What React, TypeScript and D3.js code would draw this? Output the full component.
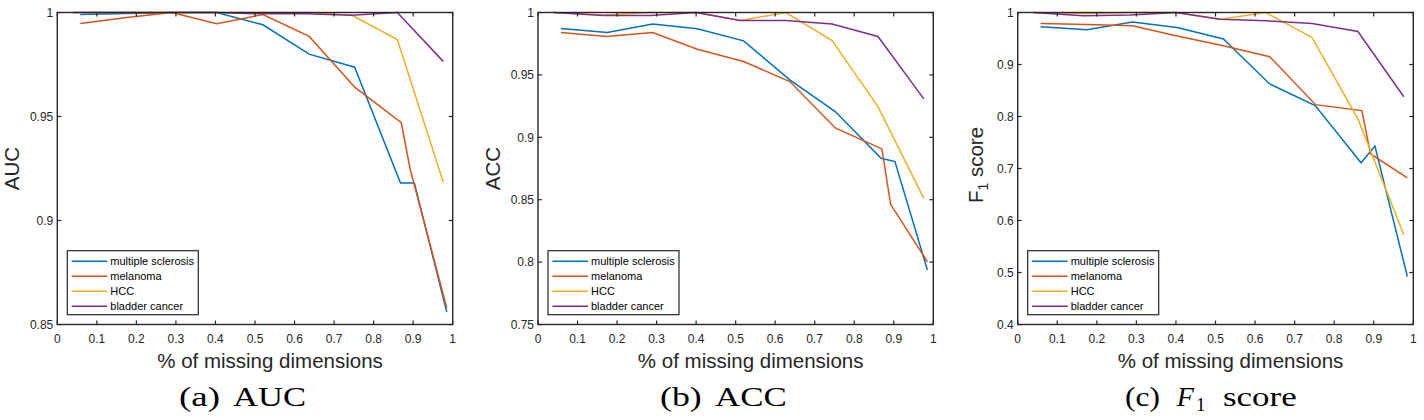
import React from "react";
import * as d3 from "d3";

// ---------- data ----------
const SERIES_NAMES = ["multiple sclerosis", "melanoma", "HCC", "bladder cancer"];
const COLORS = ["#0072BD", "#D95319", "#EDB120", "#7E2F8E"];

const X_MS = [0.058, 0.175, 0.29, 0.403, 0.52, 0.637, 0.752, 0.868, 0.903, 0.985];
const X_MEL = [0.058, 0.175, 0.29, 0.403, 0.52, 0.637, 0.753, 0.87, 0.892, 0.985];
const X_HCC = [0.04, 0.165, 0.285, 0.4, 0.512, 0.627, 0.744, 0.86, 0.976];
const X_BLAD = [0.04, 0.165, 0.285, 0.4, 0.512, 0.627, 0.744, 0.86, 0.976];

const AUC_MS = [0.999, 0.9995, 1.0, 1.0, 0.9941, 0.98, 0.9737, 0.918, 0.918, 0.856];
const AUC_MEL = [0.9947, 0.9976, 1.0, 0.9946, 0.999, 0.9885, 0.964, 0.947, 0.925, 0.858];
const AUC_HCC = [1.0, 1.0, 1.0, 1.0, 1.0, 1.0, 0.9988, 0.987, 0.9185];
const AUC_BLAD = [1.0, 1.0, 1.0, 1.0, 0.9994, 0.9994, 0.9987, 1.0, 0.9765];

const ACC_MS = [0.9872, 0.984, 0.9907, 0.987, 0.9773, 0.946, 0.9206, 0.8832, 0.8805, 0.7937];
const ACC_MEL = [0.984, 0.9808, 0.984, 0.9706, 0.9607, 0.9447, 0.9073, 0.8907, 0.8463, 0.8003];
const ACC_HCC = [1.0, 0.998, 1.0, 1.0, 0.9936, 1.0, 0.9775, 0.9246, 0.851];
const ACC_BLAD = [1.0, 0.9976, 0.9976, 1.0, 0.9936, 0.9936, 0.9907, 0.9808, 0.9308];

const F1_MS = [0.9726, 0.9668, 0.9815, 0.9712, 0.949, 0.8626, 0.821, 0.711, 0.743, 0.4923];
const F1_MEL = [0.979, 0.977, 0.9745, 0.955, 0.936, 0.915, 0.8228, 0.8113, 0.728, 0.682];
const F1_HCC = [1.0, 0.998, 1.0, 1.0, 0.987, 1.0, 0.952, 0.7954, 0.5727];
const F1_BLAD = [1.0, 0.9937, 0.995, 1.0, 0.987, 0.984, 0.979, 0.9635, 0.838];

const X_TICKS = [0, 0.1, 0.2, 0.3, 0.4, 0.5, 0.6, 0.7, 0.8, 0.9, 1];
const AUC_Y_TICKS = [0.85, 0.9, 0.95, 1];
const ACC_Y_TICKS = [0.75, 0.8, 0.85, 0.9, 0.95, 1];
const F1_Y_TICKS = [0.4, 0.5, 0.6, 0.7, 0.8, 0.9, 1];

const X_LABEL = "% of missing dimensions";

// ---------- layout ----------
const TOP = 12.5;
const BOTTOM = 324.5;
const AX = "#262626";
const SANS = "'Liberation Sans', Arial, Helvetica, sans-serif";
const SERIF = "'Liberation Serif', 'Times New Roman', serif";

const xsAll = [X_MS, X_MEL, X_HCC, X_BLAD];

const panels = [
  {
    left: 57.3, right: 452.7, yDomain: [0.85, 1], yTicks: AUC_Y_TICKS,
    ys: [AUC_MS, AUC_MEL, AUC_HCC, AUC_BLAD],
    ylabel: "AUC", ylabelX: 18.5, capTag: "(a)", capTagX: 179, capTagW: 41,
    capText: "AUC", capTextX: 233, capTextW: 73,
  },
  {
    left: 538, right: 933.3, yDomain: [0.75, 1], yTicks: ACC_Y_TICKS,
    ys: [ACC_MS, ACC_MEL, ACC_HCC, ACC_BLAD],
    ylabel: "ACC", ylabelX: 500, capTag: "(b)", capTagX: 660, capTagW: 41.7,
    capText: "ACC", capTextX: 715, capTextW: 71.7,
  },
  {
    left: 1017.7, right: 1413.3, yDomain: [0.4, 1], yTicks: F1_Y_TICKS,
    ys: [F1_MS, F1_MEL, F1_HCC, F1_BLAD],
    ylabel: "F1", ylabelX: 983, capTag: "(c)", capTagX: 1125, capTagW: 35,
    capText: "F1", capTextX: 1176.7, capTextW: 0,
  },
];

const fmt = (v: number) => String(+v.toFixed(2));

function Panel({ p }: { p: any }) {
  const x = d3.scaleLinear().domain([0, 1]).range([p.left, p.right]);
  const y = d3.scaleLinear().domain(p.yDomain).range([BOTTOM, TOP]);
  const line = d3.line<[number, number]>().x((d) => x(d[0])).y((d) => y(d[1]));
  const tl = 4;
  const cx = (p.left + p.right) / 2;
  const legX = p.left + 10;
  const legY = 250.7;
  const isF1 = p.ylabel === "F1";
  return (
    <g>
      {/* series */}
      {p.ys.map((vals: number[], i: number) => (
        <path
          key={i}
          d={line(vals.map((v, j) => [xsAll[i][j], v] as [number, number])) || ""}
          fill="none"
          stroke={COLORS[i]}
          strokeWidth={1.5}
        />
      ))}
      {/* box */}
      <rect x={p.left} y={TOP} width={p.right - p.left} height={BOTTOM - TOP} fill="none" stroke={AX} strokeWidth={1.4} />
      {/* x ticks */}
      {X_TICKS.map((t) => (
        <g key={"x" + t}>
          <line x1={x(t)} x2={x(t)} y1={BOTTOM} y2={BOTTOM - tl} stroke={AX} strokeWidth={1.2} />
          <line x1={x(t)} x2={x(t)} y1={TOP} y2={TOP + tl} stroke={AX} strokeWidth={1.2} />
          <text x={x(t)} y={342.5} textAnchor="middle" fontFamily={SANS} fontSize={12} fill={AX}>
            {fmt(t)}
          </text>
        </g>
      ))}
      {/* y ticks */}
      {p.yTicks.map((t: number) => (
        <g key={"y" + t}>
          <line x1={p.left} x2={p.left + tl} y1={y(t)} y2={y(t)} stroke={AX} strokeWidth={1.2} />
          <line x1={p.right} x2={p.right - tl} y1={y(t)} y2={y(t)} stroke={AX} strokeWidth={1.2} />
          <text x={p.left - 4} y={y(t) + 4.3} textAnchor="end" fontFamily={SANS} fontSize={12} fill={AX}>
            {fmt(t)}
          </text>
        </g>
      ))}
      {/* x label */}
      <text x={cx + 15} y={368} textAnchor="middle" fontFamily={SANS} fontSize={20.5} fill={AX}>
        {X_LABEL}
      </text>
      {/* y label */}
      {isF1 ? (
        <text
          transform={`translate(${p.ylabelX},165) rotate(-90)`}
          textAnchor="middle"
          fontFamily={SANS}
          fontSize={20.5}
          fill={AX}
        >
          F<tspan fontSize={14} dy={5}>1</tspan>
          <tspan dy={-5}> score</tspan>
        </text>
      ) : (
        <text
          transform={`translate(${p.ylabelX},168.5) rotate(-90)`}
          textAnchor="middle"
          fontFamily={SANS}
          fontSize={20.5}
          fill={AX}
        >
          {p.ylabel}
        </text>
      )}
      {/* legend */}
      <rect x={legX} y={legY} width={131} height={64} fill="#fff" stroke={AX} strokeWidth={1.2} />
      {SERIES_NAMES.map((n, i) => (
        <g key={n}>
          <line x1={legX + 4.4} x2={legX + 40} y1={legY + 10.5 + i * 15} y2={legY + 10.5 + i * 15} stroke={COLORS[i]} strokeWidth={1.5} />
          <text x={legX + 43} y={legY + 14.3 + i * 15} fontFamily={SANS} fontSize={11} fill="#000">
            {n}
          </text>
        </g>
      ))}
      {/* caption */}
      <text x={p.capTagX} y={406} fontFamily={SERIF} fontSize={28} fill="#000" textLength={p.capTagW} lengthAdjust="spacingAndGlyphs">
        {p.capTag}
      </text>
      {isF1 ? (
        <g>
          <text x={1176.7} y={406} fontFamily={SERIF} fontStyle="italic" fontSize={28} fill="#000">
            F
          </text>
          <text x={1196} y={411} fontFamily={SERIF} fontSize={19} fill="#000">
            1
          </text>
          <text x={1223} y={406} fontFamily={SERIF} fontSize={28} fill="#000" textLength={73.7} lengthAdjust="spacingAndGlyphs">
            score
          </text>
        </g>
      ) : (
        <text x={p.capTextX} y={406} fontFamily={SERIF} fontSize={28} fill="#000" textLength={p.capTextW} lengthAdjust="spacingAndGlyphs">
          {p.capText}
        </text>
      )}
    </g>
  );
}

export default function App() {
  return (
    <svg
      width={1424}
      height={420}
      viewBox="0 0 1424 420"
      style={{ position: "absolute", left: 0, top: 0, background: "#fff" }}
    >
      <rect x={0} y={0} width={1424} height={420} fill="#fff" />
      {panels.map((p, i) => (
        <Panel key={i} p={p} />
      ))}
    </svg>
  );
}
